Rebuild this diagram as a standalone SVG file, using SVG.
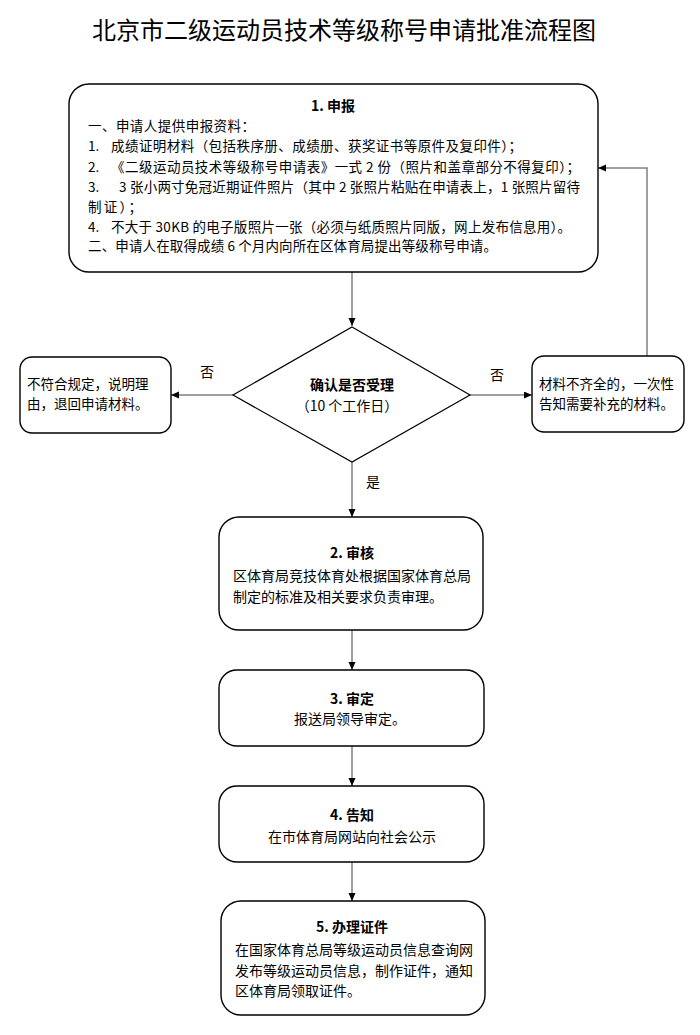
<svg xmlns="http://www.w3.org/2000/svg" width="700" height="1035" viewBox="0 0 700 1035">
<style>
text{font-family:"Noto Sans CJK SC","Liberation Sans",sans-serif;fill:#000}
.title{font-size:24px}
.t1{font-size:13.5px}
.t{font-size:14px}
.b{font-weight:bold;font-size:14px}
.c{text-anchor:middle}
.box{fill:#fff;stroke:#000;stroke-width:1.4}
.con{fill:none;stroke:#808080;stroke-width:1.5;marker-end:url(#arr)}
</style>
<defs>
<marker id="arr" markerUnits="userSpaceOnUse" markerWidth="9" markerHeight="8" refX="8" refY="3.5" orient="auto">
<path d="M0,0 L8,3.5 L0,7 z" fill="#000"/>
</marker>
</defs>
<rect width="700" height="1035" fill="#fff"/>
<text class="title c" x="344" y="39">北京市二级运动员技术等级称号申请批准流程图</text>

<g id="connectors">
<line class="con" x1="352" y1="272" x2="352" y2="326"/>
<line class="con" x1="233" y1="395" x2="171" y2="395"/>
<line class="con" x1="470" y1="395" x2="532" y2="395"/>
<polyline class="con" points="647,356 647,168 598,168"/>
<line class="con" x1="352" y1="462" x2="352" y2="517"/>
<line class="con" x1="352" y1="630" x2="352" y2="670"/>
<line class="con" x1="352" y1="746" x2="352" y2="786"/>
<line class="con" x1="352" y1="862" x2="352" y2="901"/>
<text class="t" x="200" y="377">否</text>
<text class="t" x="490" y="380">否</text>
<text class="t" x="366" y="487">是</text>
</g>

<g id="node1">
<rect class="box" x="69" y="84" width="529" height="188" rx="20" ry="20"/>
<text class="b c" x="333" y="111">1. 申报</text>
<text class="t1" x="88" y="131" textLength="167" lengthAdjust="spacing">一、申请人提供申报资料：</text>
<text class="t1" x="88" y="151">1.</text>
<text class="t1" x="111" y="151" textLength="411" lengthAdjust="spacing">成绩证明材料（包括秩序册、成绩册、获奖证书等原件及复印件）；</text>
<text class="t1" x="88" y="172">2.</text>
<text class="t1" x="111" y="172" textLength="469" lengthAdjust="spacing">《二级运动员技术等级称号申请表》一式 2 份（照片和盖章部分不得复印）；</text>
<text class="t1" x="88" y="192">3.</text>
<text class="t1" x="119" y="192" textLength="461" lengthAdjust="spacing">3 张小两寸免冠近期证件照片（其中 2 张照片粘贴在申请表上，1 张照片留待</text>
<text class="t1" x="88" y="212" textLength="54" lengthAdjust="spacing">制证）；</text>
<text class="t1" x="88" y="232">4.</text>
<text class="t1" x="111" y="232" textLength="460" lengthAdjust="spacing">不大于 30KB 的电子版照片一张（必须与纸质照片同版，网上发布信息用）。</text>
<text class="t1" x="88" y="251" textLength="409" lengthAdjust="spacing">二、申请人在取得成绩 6 个月内向所在区体育局提出等级称号申请。</text>
</g>

<g id="decision">
<polygon points="352,327 470,395 352,462 233,395" fill="#fff" stroke="#000" stroke-width="1.2"/>
<text class="b c" x="352" y="390">确认是否受理</text>
<text class="t c" x="347" y="411">（10 个工作日）</text>
</g>

<g id="reject">
<rect class="box" x="20" y="357" width="151" height="76" rx="12" ry="12"/>
<text class="t1" x="27" y="389">不符合规定，说明理</text>
<text class="t1" x="27" y="409">由，退回申请材料。</text>
</g>

<g id="supplement">
<rect class="box" x="532" y="356" width="152" height="76" rx="12" ry="12"/>
<text class="t1" x="539" y="389">材料不齐全的，一次性</text>
<text class="t1" x="539" y="409">告知需要补充的材料。</text>
</g>

<g id="node2">
<rect class="box" x="219" y="517" width="264" height="113" rx="20" ry="20"/>
<text class="b c" x="352" y="558">2. 审核</text>
<text class="t" x="233" y="581">区体育局竞技体育处根据国家体育总局</text>
<text class="t" x="233" y="602">制定的标准及相关要求负责审理。</text>
</g>

<g id="node3">
<rect class="box" x="219" y="670" width="265" height="76" rx="18" ry="18"/>
<text class="b c" x="352" y="704">3. 审定</text>
<text class="t c" x="350" y="724">报送局领导审定。</text>
</g>

<g id="node4">
<rect class="box" x="219" y="786" width="265" height="76" rx="18" ry="18"/>
<text class="b c" x="352" y="820">4. 告知</text>
<text class="t c" x="352" y="842">在市体育局网站向社会公示</text>
</g>

<g id="node5">
<rect class="box" x="221" y="901" width="264" height="114" rx="20" ry="20"/>
<text class="b c" x="352" y="932">5. 办理证件</text>
<text class="t" x="235" y="955">在国家体育总局等级运动员信息查询网</text>
<text class="t" x="235" y="976">发布等级运动员信息，制作证件，通知</text>
<text class="t" x="235" y="996">区体育局领取证件。</text>
</g>
</svg>
